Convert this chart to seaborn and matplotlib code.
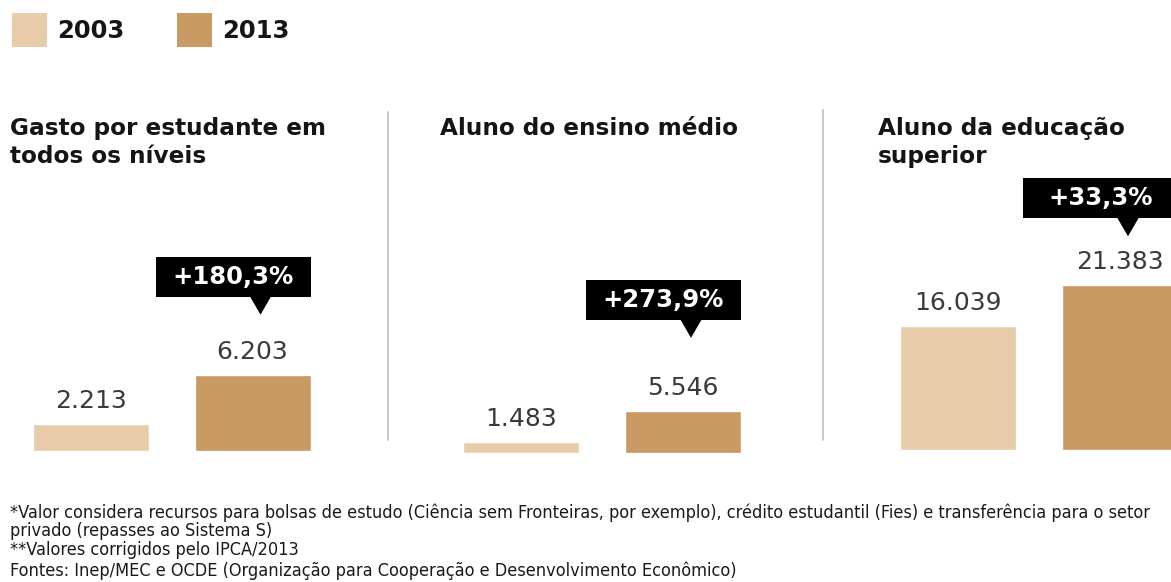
import matplotlib
matplotlib.use("Agg")
import matplotlib.pyplot as plt
import seaborn as sns
import pandas as pd
from matplotlib.lines import Line2D
from matplotlib.patches import Rectangle, Polygon, Patch

# ---------------- data ----------------
years = ["2003", "2013"]
panel_titles = ["Gasto por estudante em\ntodos os níveis",
                "Aluno do ensino médio",
                "Aluno da educação\nsuperior"]
values_2003 = [2213, 1483, 16039]
values_2013 = [6203, 5546, 21383]
value_labels_2003 = ["2.213", "1.483", "16.039"]
value_labels_2013 = ["6.203", "5.546", "21.383"]
growth_labels = ["+180,3%", "+273,9%", "+33,3%"]
footnotes = [
    "*Valor considera recursos para bolsas de estudo (Ciência sem Fronteiras, por exemplo), crédito estudantil (Fies) e transferência para o setor",
    "privado (repasses ao Sistema S)",
    "**Valores corrigidos pelo IPCA/2013",
    "Fontes: Inep/MEC e OCDE (Organização para Cooperação e Desenvolvimento Econômico)",
]

# ---------------- style ----------------
colors = {"2003": "#E8CBA9", "2013": "#C99A63"}
W, H = 1171, 582
sns.set_theme(style="white")
plt.rcParams["font.family"] = ["DejaVu Sans"]

fig = plt.figure(figsize=(W / 100, H / 100), dpi=100)
fig.patch.set_facecolor("white")

# panel geometry (pixels)
panel_left = [0, 390, 826]
panel_right = [388, 823, 1171]
bar0_center = [90.5, 521, 958]
baseline = [451, 453, 450]
px_per_unit = [0.0123, 0.0076, 0.0077]
bar_step = 162.0
bar_width_frac = 116 / 162.0
axes_top, axes_bottom = 100, 475
title_x = [10, 440, 878]
label_off = 23          # px above bar top
box_bottom_off = [78, 91, 67]
box_left_dx, box_w, box_h = -97, 155, 40
tip_dx, tip_half, tip_h = 8, 11, 18

for i in range(3):
    L, R = panel_left[i], panel_right[i]
    ax = fig.add_axes([L / W, 1 - axes_bottom / H, (R - L) / W,
                       (axes_bottom - axes_top) / H])
    df = pd.DataFrame({"year": years,
                       "value": [values_2003[i], values_2013[i]]})
    sns.barplot(data=df, x="year", y="value", hue="year", palette=colors,
                order=years, hue_order=years, width=bar_width_frac,
                saturation=1, errorbar=None, legend=False, ax=ax)
    s = px_per_unit[i]
    c0 = bar0_center[i]
    yb = baseline[i]
    ax.set_xlim((L - c0) / bar_step, (R - c0) / bar_step)
    ax.set_ylim(-(axes_bottom - yb) / s, (yb - axes_top) / s)
    ax.axis("off")

    # value labels
    for j, (v, lab) in enumerate(zip([values_2003[i], values_2013[i]],
                                     [value_labels_2003[i], value_labels_2013[i]])):
        ax.annotate(lab, xy=(j, v), xytext=(0, label_off * 0.72),
                    textcoords="offset points", ha="center", va="center",
                    fontsize=18, color="#3a3a3a")

    # growth badge
    v = values_2013[i]
    bx = 1 + box_left_dx / bar_step
    by = v + box_bottom_off[i] / s
    ax.add_patch(Rectangle((bx, by), box_w / bar_step, box_h / s,
                           fc="black", ec="none", clip_on=False, zorder=5))
    ax.add_patch(Polygon([(1 + (tip_dx - tip_half) / bar_step, by + 1 / s),
                          (1 + (tip_dx + tip_half) / bar_step, by + 1 / s),
                          (1 + tip_dx / bar_step, by - tip_h / s)],
                         closed=True, fc="black", ec="none",
                         clip_on=False, zorder=5))
    ax.text(bx + box_w / 2 / bar_step, by + box_h / 2 / s, growth_labels[i],
            ha="center", va="center", color="white", fontsize=17.5,
            fontweight="bold", zorder=6, clip_on=False)

    # panel title
    fig.text(title_x[i] / W, 1 - 117 / H, panel_titles[i], ha="left", va="top",
             fontsize=16.7, fontweight="bold", color="#151515", linespacing=1.27)

# divider lines
for x, y0, y1 in [(388, 112, 440), (823, 110, 440)]:
    fig.add_artist(Line2D([x / W, x / W], [1 - y0 / H, 1 - y1 / H],
                          color="#c4c4c4", lw=1.3))

# legend
handles = [Patch(facecolor=colors[y], edgecolor="none", label=y) for y in years]
leg = fig.legend(handles=handles, loc="upper left",
                 bbox_to_anchor=(12 / W, 1 - 13 / H), ncol=2, frameon=False,
                 prop={"size": 17.5, "weight": "bold"}, handlelength=1.44,
                 handleheight=1.75, handletextpad=0.42, columnspacing=2.15,
                 borderpad=0, borderaxespad=0)
for t in leg.get_texts():
    t.set_color("#151515")

# footnotes
foot_y = [518, 536, 555, 576]
for txt, yy in zip(footnotes, foot_y):
    fig.text(10 / W, 1 - yy / H, txt, ha="left", va="baseline",
             fontsize=13, color="#1a1a1a",
             family=["DejaVu Sans Condensed", "Liberation Sans Narrow", "DejaVu Sans"],
             fontstretch="condensed")

fig.savefig("out.png", dpi=100)
